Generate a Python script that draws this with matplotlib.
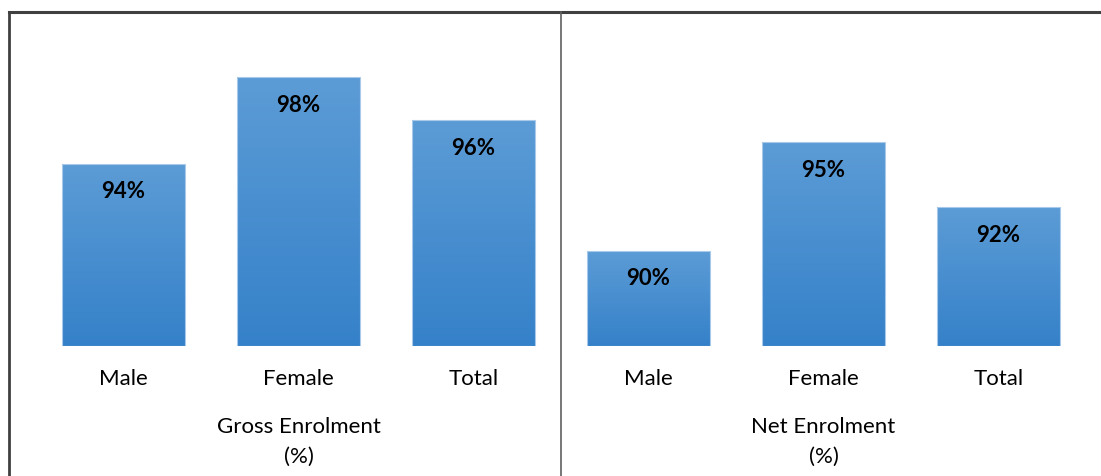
import matplotlib
matplotlib.use("Agg")
import matplotlib.pyplot as plt
import numpy as np
from matplotlib.colors import LinearSegmentedColormap
from matplotlib.lines import Line2D

# Enrolment rates by sex, grouped by measure
groups = ["Gross Enrolment\n(%)", "Net Enrolment\n(%)"]
categories = ["Male", "Female", "Total"]
gross = [94, 98, 96]
net = [90, 95, 92]

W, H = 1101, 477
dpi = 100
PT = 72 / dpi  # points per pixel
fig = plt.figure(figsize=(W / dpi, H / dpi), dpi=dpi)
fig.patch.set_facecolor("white")

# plot area in pixels (left, top, right, baseline)
px_left, px_top, px_right, px_base = 36, 13, 1086, 347
ymin, ymax = 85.6, 101.0
ax = fig.add_axes([px_left / W, (H - px_base) / H,
                   (px_right - px_left) / W, (px_base - px_top) / H])
ax.axis("off")

values = gross + net
xs = np.arange(len(values))
bars = ax.bar(xs, np.array(values) - ymin, bottom=ymin, width=0.70,
              color="none", edgecolor="#a9c9ea", linewidth=0.8, zorder=3)

# vertical gradient in each bar, lighter at the top
cmap = LinearSegmentedColormap.from_list("blue_grad", ["#3581c9", "#5c9cd6"])
grad = np.linspace(0, 1, 256).reshape(-1, 1)
for b in bars:
    x0, y0 = b.get_x(), b.get_y()
    im = ax.imshow(grad, cmap=cmap, origin="lower", aspect="auto",
                   extent=(x0, x0 + b.get_width(), y0, y0 + b.get_height()),
                   zorder=2)
    im.set_clip_path(b)
ax.set_xlim(-0.5, 5.5)
ax.set_ylim(ymin, ymax)

font = "Lato"
fs = 16
for x, v in zip(xs, values):
    ax.annotate(f"{v}%", (x, v), xytext=(0, -27 * PT), textcoords="offset points",
                ha="center", va="center", fontsize=fs, fontweight="bold",
                family=font, color="black", zorder=4)

# category and group labels below the baseline
for i, x in enumerate(xs):
    ax.annotate(categories[i % 3], (x, ymin), xytext=(0, -32 * PT),
                textcoords="offset points", ha="center", va="center",
                fontsize=fs, family=font, color="black")
for g, label in enumerate(groups):
    ax.annotate(label, (3 * g + 1, ymin), xytext=(0, -95 * PT),
                textcoords="offset points", ha="center", va="center",
                fontsize=fs, family=font, color="black", linespacing=1.6)

# chart frame (top and left edges) and the group divider
fig.add_artist(Line2D([9 / W, 1], [1 - 13 / H, 1 - 13 / H],
                      color="#404040", linewidth=2.2))
fig.add_artist(Line2D([9 / W, 9 / W], [0, 1 - 13 / H],
                      color="#404040", linewidth=2.0))
fig.add_artist(Line2D([561 / W, 561 / W], [0, 1 - 13 / H],
                      color="#606060", linewidth=1.2))

fig.savefig("out.png", dpi=dpi, facecolor="white")
